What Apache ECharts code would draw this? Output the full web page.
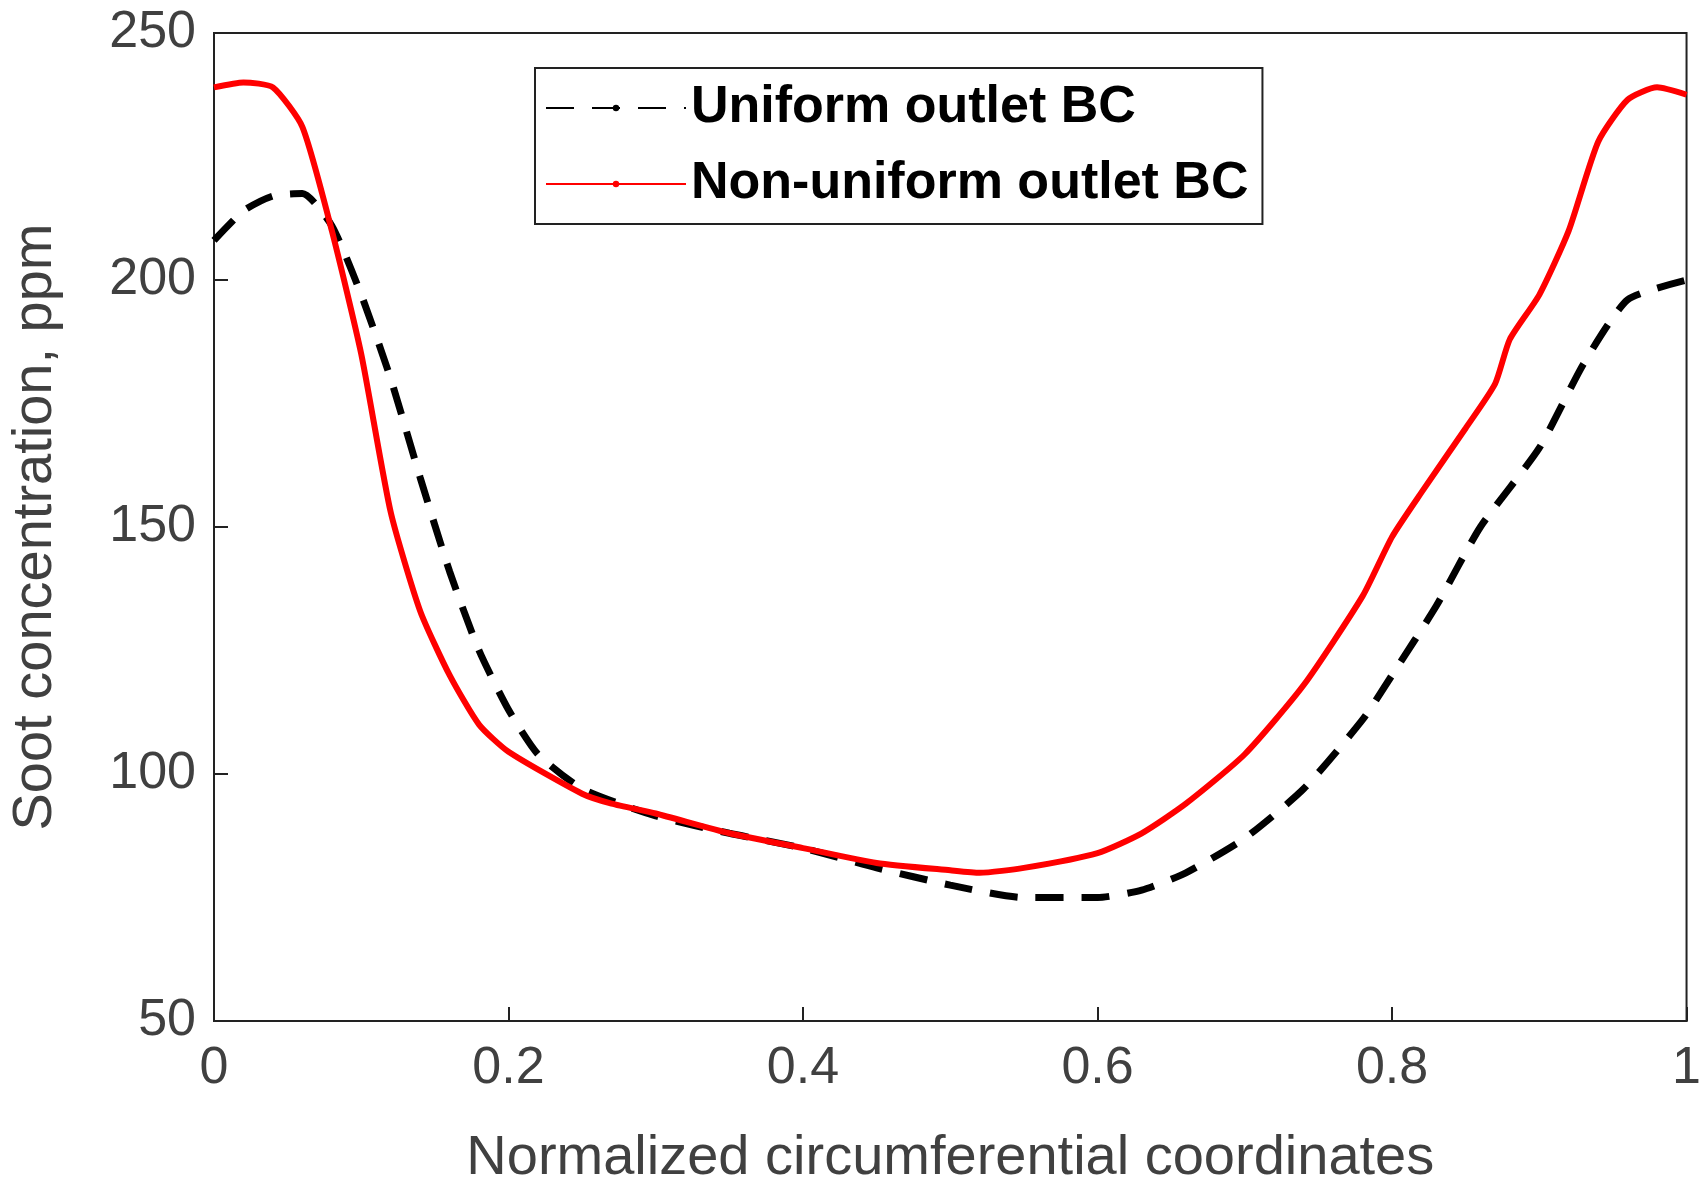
<!DOCTYPE html>
<html>
<head>
<meta charset="utf-8">
<script src="https://cdn.jsdelivr.net/npm/echarts@6/dist/echarts.min.js"></script>
<style>html,body{margin:0;background:#fff}#chart{width:1704px;height:1204px}</style>
</head>
<body>
<div id="chart"></div>
<script>
// Non-uniform outlet BC (red, solid)
const redX = [0, 0.02, 0.04, 0.06, 0.08, 0.1, 0.12, 0.14, 0.16, 0.18, 0.2, 0.25, 0.27, 0.3, 0.35, 0.4, 0.45, 0.5, 0.52, 0.55, 0.6, 0.63, 0.66, 0.7, 0.74, 0.78, 0.8, 0.82, 0.85, 0.87, 0.88, 0.9, 0.92, 0.94, 0.96, 0.98, 1];
const redY = [239, 240, 239, 231, 210, 185, 153, 133, 120, 110, 104.5, 96, 94, 92, 88, 85, 82, 80.5, 80, 81, 84, 88, 94, 104, 118, 136, 148, 157, 170, 179, 188, 197, 210, 228, 236.5, 239, 237.5];
// Uniform outlet BC (black, dashed)
const blackX = [0, 0.02, 0.04, 0.06, 0.08, 0.1, 0.12, 0.14, 0.16, 0.18, 0.2, 0.22, 0.25, 0.3, 0.35, 0.4, 0.45, 0.5, 0.55, 0.6, 0.63, 0.66, 0.7, 0.74, 0.78, 0.8, 0.83, 0.86, 0.9, 0.93, 0.96, 1];
const blackY = [208, 214, 217, 217.5, 211, 197, 180, 160, 141, 125, 113, 104, 97, 91.5, 88, 85, 81, 77.5, 75, 75, 76.5, 80, 87, 97, 111, 120, 134, 150, 166, 183, 196, 200];

const pairs = (xs, ys) => xs.map((x, i) => [x, ys[i]]);
const font = "Arial, 'Liberation Sans', sans-serif";
const axisCommon = {
  axisLine: { show: true, onZero: false, lineStyle: { color: "#222", width: 2 } },
  axisTick: { show: true, inside: true, length: 14, lineStyle: { color: "#222", width: 2 } },
  splitLine: { show: false },
  axisLabel: { color: "#404040", fontSize: 52, fontFamily: font },
  nameTextStyle: { color: "#404040", fontSize: 56, fontFamily: font },
  nameLocation: "middle",
};

let chart = echarts.init(document.getElementById("chart"));
let option = {
  animation: false,
  grid: { left: 214, right: 17, top: 33, bottom: 183, show: true, borderColor: "#222", borderWidth: 2 },
  xAxis: Object.assign({}, axisCommon, {
    type: "value", min: 0, max: 1, interval: 0.2, name: "Normalized circumferential coordinates", nameGap: 110,
    axisLabel: Object.assign({}, axisCommon.axisLabel, { margin: 22, formatter: (v) => String(Math.round(v * 10) / 10) }),
  }),
  yAxis: Object.assign({}, axisCommon, {
    type: "value", min: 50, max: 250, interval: 50, name: "Soot concentration, ppm", nameGap: 150,
    axisLabel: Object.assign({}, axisCommon.axisLabel, { margin: 18 }),
  }),
  legend: {
    left: 535, top: 68, orient: "vertical",
    borderColor: "#222", borderWidth: 2, padding: [14, 14, 14, 10], itemGap: 24,
    itemWidth: 140, itemHeight: 8,
    textStyle: { fontSize: 52, fontWeight: "bold", color: "#000", fontFamily: font },
    data: ["Uniform outlet BC", "Non-uniform outlet BC"],
  },
  series: [
    {
      name: "Uniform outlet BC", type: "line", data: pairs(blackX, blackY), symbol: "none",
      smooth: 0.2, lineStyle: { color: "#000", width: 7, type: [28, 18] }, itemStyle: { color: "#000" },
    },
    {
      name: "Non-uniform outlet BC", type: "line", data: pairs(redX, redY), symbol: "none",
      smooth: 0.2, lineStyle: { color: "#ff0000", width: 6 }, itemStyle: { color: "#ff0000" },
    },
  ],
};
option && chart.setOption(option);
</script>
</body>
</html>
